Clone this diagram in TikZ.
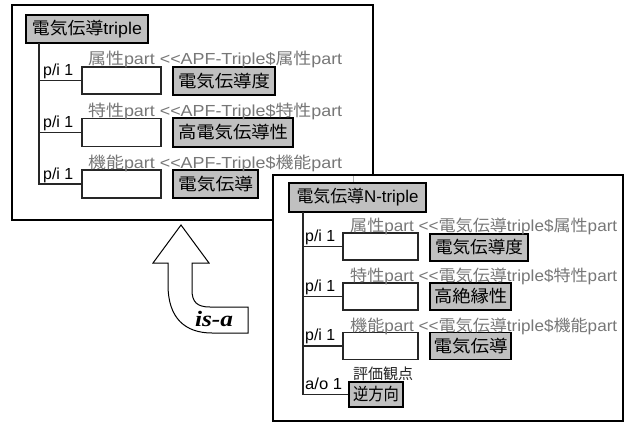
\documentclass[tikz,border=0pt]{standalone}
\usepackage{graphicx}
\usepackage{fontspec}
\setmainfont{Liberation Sans}
\newfontfamily\jp{Noto Sans CJK JP}
\newfontfamily\isafont{Liberation Serif}
\newcommand{\sx}[2]{\resizebox{#1}{\height}{#2}}
\definecolor{boxgray}{HTML}{C0C0C0}
\definecolor{lblgray}{HTML}{777777}
\begin{document}
\begin{tikzpicture}[x=1pt,y=-1pt,
  frame/.style={draw=black,line width=1.4pt,fill=white},
  graybox/.style={draw=black,line width=1.3pt,fill=boxgray,inner sep=0pt,font=\fontsize{17}{19}\selectfont},
  emptybox/.style={draw=black!85,line width=1.1pt,fill=white,inner sep=0pt},
  lbl/.style={text=lblgray,inner sep=0pt,font=\fontsize{16}{18}\selectfont,anchor=base west},
  card/.style={inner sep=0pt,font=\fontsize{16}{18}\selectfont,anchor=base west},
  tree/.style={draw=black!85,line width=1.2pt},
  isarrow/.style={draw=black,line width=1pt,fill=white,line join=miter}]

\useasboundingbox (0,0) rectangle (626,423);
\fill[white] (0,0) rectangle (626,423);

% ---------- left frame ----------
\draw[frame] (12,5) rectangle (373,220);
\node[graybox,minimum width=122pt,minimum height=28pt] (t1) at (87,29) {\sx{110pt}{{\jp 電気伝導}triple}};
\coordinate (v1) at (39,43);

\node[emptybox,minimum width=79pt,minimum height=27pt] (e1) at (121.5,80.5) {};
\node[emptybox,minimum width=79pt,minimum height=28pt] (e2) at (121.5,132.5) {};
\node[emptybox,minimum width=79pt,minimum height=28pt] (e3) at (121.5,184) {};

\node[graybox,minimum width=102pt,minimum height=28pt] (g1) at (224,81) {\sx{92pt}{\jp 電気伝導度}};
\node[graybox,minimum width=120pt,minimum height=29pt] (g2) at (233,132.5) {\sx{110pt}{\jp 高電気伝導性}};
\node[graybox,minimum width=85pt,minimum height=28pt] (g3) at (215.5,184) {\sx{75pt}{\jp 電気伝導}};

\draw[tree] (v1) |- (e3.west);
\draw[tree] (v1 |- e1.west) -- (e1.west);
\draw[tree] (v1 |- e2.west) -- (e2.west);

\node[card] (p1) at (43,75) {\sx{30pt}{p/i 1}};
\node[card] (p2) at (43,127) {\sx{30pt}{p/i 1}};
\node[card] (p3) at (43,179) {\sx{30pt}{p/i 1}};

\node[lbl] (l1) at (88,64) {\sx{254pt}{{\jp 属性}part <\kern0pt<APF-Triple\${\jp 属性}part}};
\node[lbl] (l2) at (88,116) {\sx{254pt}{{\jp 特性}part <\kern0pt<APF-Triple\${\jp 特性}part}};
\node[lbl] (l3) at (88,168) {\sx{254pt}{{\jp 機能}part <\kern0pt<APF-Triple\${\jp 機能}part}};

% ---------- is-a arrow ----------
\draw[isarrow] (181,225) -- (209,263) -- (192,263) -- (192,290)
  .. controls (192,302) and (197,307) .. (210,307) -- (248,307) -- (248,333) -- (212,333)
  .. controls (185,333) and (168,318) .. (168,285) -- (168,263) -- (153,263) -- cycle;
\node[inner sep=0pt,font=\fontsize{22}{24}\selectfont] (isa) at (214,319) {\sx{38pt}{\isafont\bfseries\itshape is-a}};

% ---------- right frame ----------
\draw[frame] (273,175) rectangle (623,421);
\node[graybox,minimum width=137pt,minimum height=29pt] (t2) at (357.5,197.5) {\sx{122pt}{{\jp 電気伝導}N-triple}};
\coordinate (tk) at (353,176);
\draw[gray!60,line width=0.6pt] (tk) -- (tk |- t2.north);
\coordinate (v2) at (303,212);

\node[emptybox,minimum width=75pt,minimum height=27pt] (e4) at (380.5,246.5) {};
\node[emptybox,minimum width=75pt,minimum height=27pt] (e5) at (380.5,296.5) {};
\node[emptybox,minimum width=75pt,minimum height=27pt] (e6) at (380.5,346) {};

\node[graybox,minimum width=98pt,minimum height=27pt] (g4) at (479,247.5) {\sx{88pt}{\jp 電気伝導度}};
\node[graybox,minimum width=81pt,minimum height=27pt] (g5) at (470.5,296.5) {\sx{73pt}{\jp 高絶縁性}};
\node[graybox,minimum width=81pt,minimum height=27pt] (g6) at (470.5,346) {\sx{74pt}{\jp 電気伝導}};
\node[graybox,minimum width=54pt,minimum height=25pt] (g7) at (376,394.5) {\sx{46pt}{\jp 逆方向}};

\draw[tree] (v2) |- (g7.west);
\draw[tree] (v2 |- e4.west) -- (e4.west);
\draw[tree] (v2 |- e5.west) -- (e5.west);
\draw[tree] (v2 |- e6.west) -- (e6.west);

\node[card] (p4) at (305,241) {\sx{30pt}{p/i 1}};
\node[card] (p5) at (305,291) {\sx{30pt}{p/i 1}};
\node[card] (p6) at (305,340) {\sx{30pt}{p/i 1}};
\node[card] (ao) at (305,389) {\sx{37pt}{a/o 1}};

\node[lbl] (l4) at (350,231) {\sx{267pt}{{\jp 属性}part <\kern0pt<{\jp 電気伝導}triple\${\jp 属性}part}};
\node[lbl] (l5) at (350,281) {\sx{267pt}{{\jp 特性}part <\kern0pt<{\jp 電気伝導}triple\${\jp 特性}part}};
\node[lbl] (l6) at (350,331) {\sx{267pt}{{\jp 機能}part <\kern0pt<{\jp 電気伝導}triple\${\jp 機能}part}};
\node[inner sep=0pt,anchor=base west,text=black!85,font={\jp\fontsize{15}{17}\selectfont}] (ev) at (353,379) {評価観点};
\end{tikzpicture}
\end{document}
